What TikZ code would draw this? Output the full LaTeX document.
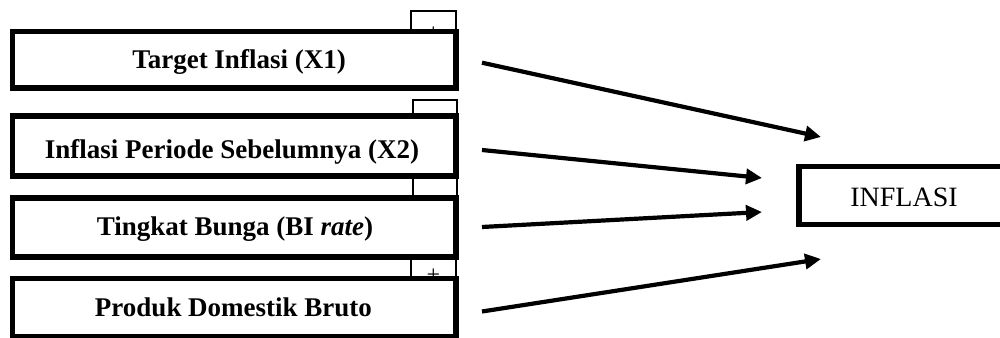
\documentclass[tikz,border=0pt]{standalone}
\usepackage{fontspec}
\setmainfont{Liberation Serif}
\usetikzlibrary{arrows.meta}
\begin{document}
\begin{tikzpicture}[x=1pt,y=-1pt,
  bigbox/.style={draw, line width=5.5pt, fill=white, inner sep=0pt, minimum width=443.5pt},
  smallbox/.style={draw, line width=1.8pt},
  lbl/.style={anchor=base, font=\fontsize{27}{30}\selectfont\bfseries, inner sep=0pt},
  plus/.style={font=\fontsize{24}{24}\selectfont, inner sep=0pt},
  conn/.style={line width=4.2pt, -{Triangle[length=16pt,width=15pt]}}]
\useasboundingbox (0,0) rectangle (1000,337);
\clip (0,0) rectangle (1000,337);
% small boxes behind
\draw[smallbox] (411,40) -- (411,11) -- (456,11) -- (456,40);
\node[plus] (p1) at (433.5,34) {+};
\draw[smallbox] (413,125) -- (413,100.3) -- (457,100.3) -- (457,125);
\draw[smallbox] (413,170) rectangle (457,205);
\draw[smallbox] (411,250) rectangle (456,285);
\node[plus] (p4) at (433.5,275.5) {+};
% big boxes
\node[bigbox, minimum height=56.5pt] (b1) at (234.25,59.75) {};
\node[bigbox, minimum height=60pt] (b2) at (234.25,146) {};
\node[bigbox, minimum height=59pt] (b3) at (234.25,227.5) {};
\node[bigbox, minimum height=58.5pt] (b4) at (234.25,307.75) {};
\node[lbl] (t1) at (239,68) {Target Inflasi (X1)};
\node[lbl] (t2) at (232,158.3) {Inflasi Periode Sebelumnya (X2)};
\node[lbl] (t3) at (235,235) {Tingkat Bunga (BI \textit{rate})};
\node[lbl] (t4) at (233.5,316.7) {Produk Domestik Bruto};
% target box
\node[draw, line width=5.5pt, inner sep=0pt, minimum width=213pt, minimum height=57.8pt] (inf) at (905.5,195.6) {};
\node[anchor=base, inner sep=0pt, font=\fontsize{28}{30}\selectfont] (tinf) at (904,206) {INFLASI};
% connector ends
\coordinate (s1) at (482,62.7);
\coordinate (s2) at (482,150);
\coordinate (s3) at (482,227);
\coordinate (s4) at (482,311.5);
\coordinate (e1) at (821,137);
\coordinate (e2) at (762,178);
\coordinate (e3) at (762,212);
\coordinate (e4) at (821,259);
\draw[conn] (s1) -- (e1);
\draw[conn] (s2) -- (e2);
\draw[conn] (s3) -- (e3);
\draw[conn] (s4) -- (e4);
\end{tikzpicture}
\end{document}
